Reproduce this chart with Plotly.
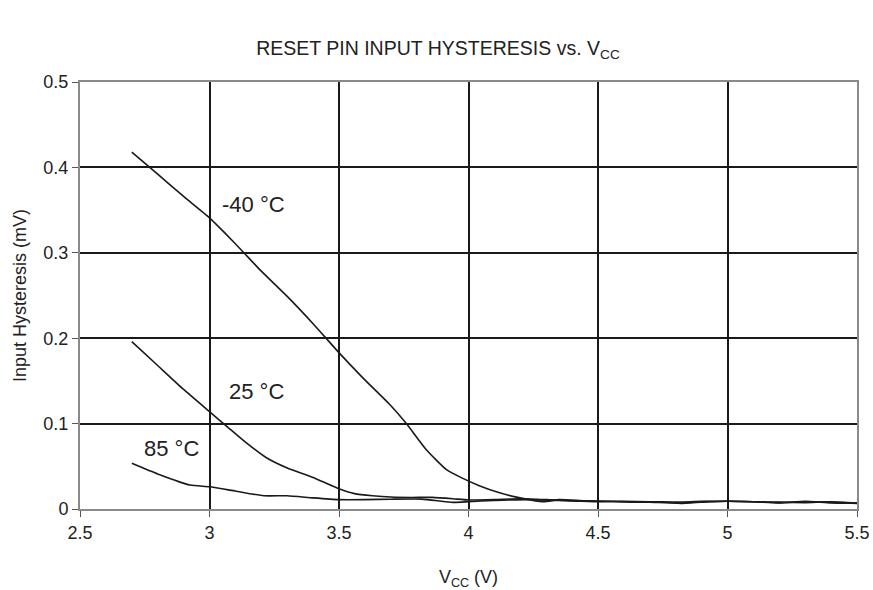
import plotly.graph_objects as go

# -40 °C
x_m40 = [2.70, 2.80, 2.90, 3.00, 3.06, 3.13, 3.195, 3.30, 3.40, 3.497, 3.594, 3.697, 3.76, 3.838, 3.915, 3.97, 4.044, 4.12, 4.19, 4.29, 4.35, 4.45, 4.55, 4.65, 4.75, 4.82, 4.90, 5.00, 5.10, 5.20, 5.30, 5.40, 5.50]
y_m40 = [0.418, 0.392, 0.366, 0.341, 0.323, 0.301, 0.280, 0.249, 0.217, 0.184, 0.153, 0.122, 0.100, 0.069, 0.046, 0.037, 0.027, 0.019, 0.0136, 0.0085, 0.0110, 0.0095, 0.0090, 0.0080, 0.0085, 0.0065, 0.0085, 0.0090, 0.0085, 0.0070, 0.0090, 0.0070, 0.0070]

# 25 °C
x_25 = [2.70, 2.80, 2.90, 3.00, 3.07, 3.14, 3.22, 3.30, 3.40, 3.497, 3.56, 3.63, 3.70, 3.78, 3.86, 3.94, 4.00, 4.10, 4.20, 4.30, 4.40, 4.50, 4.60, 4.70, 4.80, 4.90, 5.00, 5.10, 5.20, 5.30, 5.40, 5.50]
y_25 = [0.196, 0.168, 0.140, 0.114, 0.096, 0.078, 0.060, 0.048, 0.037, 0.024, 0.018, 0.0155, 0.0140, 0.0135, 0.0136, 0.0120, 0.0105, 0.0110, 0.0120, 0.0110, 0.0095, 0.0085, 0.0090, 0.0085, 0.0080, 0.0090, 0.0090, 0.0085, 0.0080, 0.0075, 0.0085, 0.0070]

# 85 °C
x_85 = [2.70, 2.80, 2.925, 3.00, 3.10, 3.21, 3.30, 3.40, 3.50, 3.60, 3.70, 3.82, 3.94, 4.00, 4.10, 4.23, 4.35, 4.50, 4.60, 4.70, 4.80, 4.90, 5.00, 5.10, 5.20, 5.30, 5.40, 5.50]
y_85 = [0.0535, 0.041, 0.028, 0.026, 0.021, 0.0155, 0.0155, 0.013, 0.011, 0.011, 0.0115, 0.0116, 0.0078, 0.0085, 0.0100, 0.0110, 0.0100, 0.0090, 0.0085, 0.0080, 0.0070, 0.0080, 0.0090, 0.0085, 0.0075, 0.0085, 0.0080, 0.0065]

x_ticks = [2.5, 3, 3.5, 4, 4.5, 5, 5.5]
x_tick_text = ["2.5", "3", "3.5", "4", "4.5", "5", "5.5"]
y_ticks = [0, 0.1, 0.2, 0.3, 0.4, 0.5]
y_tick_text = ["0", "0.1", "0.2", "0.3", "0.4", "0.5"]

labels = ["-40 °C", "25 °C", "85 °C"]
label_x = [3.168, 3.183, 2.855]
label_y = [0.356, 0.138, 0.071]

FONT = "Liberation Sans, Arial, sans-serif"

fig = go.Figure()
for xs, ys in [(x_m40, y_m40), (x_25, y_25), (x_85, y_85)]:
    fig.add_trace(go.Scatter(x=xs, y=ys, mode="lines",
                             line=dict(color="#1a1a1a", width=1.6, shape="spline", smoothing=0.5),
                             showlegend=False, hoverinfo="skip"))

for t, lx, ly in zip(labels, label_x, label_y):
    fig.add_annotation(x=lx, y=ly, text=t, showarrow=False,
                       font=dict(family=FONT, size=22, color="#222"),
                       xanchor="center", yanchor="middle")

fig.update_layout(
    width=873, height=590,
    margin=dict(l=80, r=16, t=82, b=81, autoexpand=False),
    paper_bgcolor="white", plot_bgcolor="white",
    title=dict(text="RESET PIN INPUT HYSTERESIS vs. V<sub>CC</sub>", x=0.5017, xanchor="center",
               y=0.919, yanchor="middle", font=dict(family=FONT, size=19.5, color="#222")),
    font=dict(family=FONT, color="#222"),
)
fig.update_xaxes(
    range=[2.5, 5.5], tickvals=x_ticks, ticktext=x_tick_text,
    showgrid=True, gridcolor="#1a1a1a", gridwidth=2,
    showline=True, linecolor="#8a8a8a", linewidth=2, mirror=True,
    ticks="outside", ticklen=6, tickcolor="#555", tickwidth=1,
    tickfont=dict(family=FONT, size=18, color="#222"), zeroline=False, automargin=False,
    title=dict(text="V<sub>CC</sub> (V)", font=dict(family=FONT, size=18, color="#222"), standoff=31),
)
fig.update_yaxes(
    range=[0, 0.5], tickvals=y_ticks, ticktext=y_tick_text,
    showgrid=True, gridcolor="#1a1a1a", gridwidth=2,
    showline=True, linecolor="#8a8a8a", linewidth=2, mirror=True,
    ticks="outside", ticklen=6, tickcolor="#555", tickwidth=1,
    tickfont=dict(family=FONT, size=18, color="#222"), zeroline=False, automargin=False,
    title=dict(text="Input Hysteresis (mV)", font=dict(family=FONT, size=18, color="#222"), standoff=12),
)
fig.write_html("out.html", config={"displayModeBar": False},
               post_script="document.body.style.margin='0';document.body.style.overflow='hidden';")
